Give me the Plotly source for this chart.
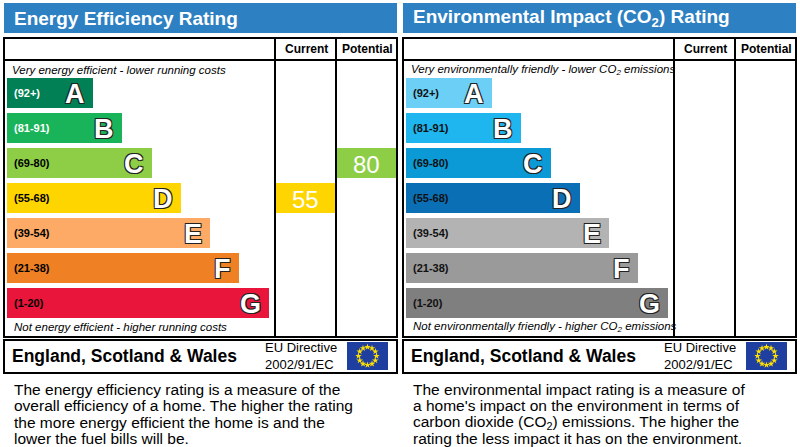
import math
import plotly.graph_objects as go

# data
bands = ['A', 'B', 'C', 'D', 'E', 'F', 'G']
ranges = ['(92+)', '(81-91)', '(69-80)', '(55-68)', '(39-54)', '(21-38)', '(1-20)']
bar_len = [86, 115, 145, 174, 203, 232, 262]
ee_colors = ['#008054', '#19b459', '#8dce46', '#ffd500', '#fcaa65', '#ef8023', '#e9153b']
ei_colors = ['#6ccff6', '#1fb5ef', '#0c9ad6', '#0a6fb5', '#b3b3b3', '#9a9a9a', '#7f7f7f']
ee_current, ee_potential = 55, 80
row_y = [93, 128, 163, 198, 233, 268, 303]

FONT = 'Liberation Sans, Arial'
fig = go.Figure()
shapes, ann = [], []


def band_index(v):
    lows = [92, 81, 69, 55, 39, 21, 1]
    for i, lo in enumerate(lows):
        if v >= lo:
            return i
    return 6


def panel(x0, title, colors, top_txt, bot_txt, para, label_colors, cur=None, pot=None):
    # header
    shapes.append(dict(type='rect', x0=x0, x1=x0 + 393, y0=3, y1=33, fillcolor='#2d80c1', line_width=0, layer='below'))
    ann.append(dict(x=x0 + 8, y=18, text=title, showarrow=False, xanchor='left',
                    font=dict(family=FONT, size=19, color='white', weight='bold')))
    # frames
    for (a, b, c, d) in [(x0, 38, x0 + 393, 337), (x0, 340, x0 + 393, 373)]:
        shapes.append(dict(type='rect', x0=a, y0=b, x1=c, y1=d, line=dict(color='black', width=2), layer='below'))
    shapes.append(dict(type='line', x0=x0, x1=x0 + 393, y0=60, y1=60, line=dict(color='black', width=2)))
    for cx in (x0 + 271, x0 + 332):
        shapes.append(dict(type='line', x0=cx, x1=cx, y0=38, y1=337, line=dict(color='black', width=2)))
    ann.append(dict(x=x0 + 302, y=49, text='Current', showarrow=False,
                    font=dict(family=FONT, size=12, color='black', weight='bold')))
    ann.append(dict(x=x0 + 363, y=49, text='Potential', showarrow=False,
                    font=dict(family=FONT, size=12, color='black', weight='bold')))
    ann.append(dict(x=x0 + 6, y=70, text=top_txt, showarrow=False, xanchor='left',
                    font=dict(family=FONT, size=11.5, color='black', style='italic')))
    ann.append(dict(x=x0 + 8, y=327, text=bot_txt, showarrow=False, xanchor='left',
                    font=dict(family=FONT, size=11.5, color='black', style='italic')))
    # bands
    fig.add_trace(go.Bar(y=row_y, x=bar_len, base=x0 + 3, orientation='h', width=30,
                         marker=dict(color=colors, line_width=0), hoverinfo='skip', showlegend=False))
    outline = '1px 1px 0 #222, -1px -1px 0 #222, 1px -1px 0 #222, -1px 1px 0 #222'
    for i in range(7):
        ann.append(dict(x=x0 + 8, y=row_y[i], text=ranges[i], showarrow=False, xanchor='left',
                        font=dict(family=FONT, size=11, color=label_colors[i], weight='bold')))
        ann.append(dict(x=x0 + 3 + bar_len[i] - 6, y=row_y[i] + 1, text=bands[i], showarrow=False, xanchor='right',
                        font=dict(family=FONT, size=27, color='white', weight='bold', shadow=outline)))
    # ratings
    for val, cx in ((cur, x0 + 272), (pot, x0 + 333)):
        if val is None:
            continue
        i = band_index(val)
        fig.add_trace(go.Bar(y=[row_y[i]], x=[59], base=cx, orientation='h', width=30,
                             marker=dict(color=colors[i], line_width=0), hoverinfo='skip', showlegend=False))
        ann.append(dict(x=cx + 29.5, y=row_y[i] + 1, text=str(val), showarrow=False,
                        font=dict(family=FONT, size=24, color='white')))
    # footer
    ann.append(dict(x=x0 + 6, y=356, text='England, Scotland & Wales', showarrow=False, xanchor='left',
                    font=dict(family=FONT, size=17.5, color='black', weight='bold')))
    ann.append(dict(x=x0 + 297, y=356, text='EU Directive<br>2002/91/EC', showarrow=False,
                    font=dict(family=FONT, size=13, color='black'), align='left'))
    shapes.append(dict(type='rect', x0=x0 + 343, x1=x0 + 384, y0=342, y1=370, fillcolor='#1f3fa0',
                       line_width=0, layer='below'))
    sx = [x0 + 363.5 + 9 * math.cos(k * math.pi / 6) for k in range(12)]
    sy = [356 + 9 * math.sin(k * math.pi / 6) for k in range(12)]
    fig.add_trace(go.Scatter(x=sx, y=sy, mode='markers', hoverinfo='skip', showlegend=False,
                             marker=dict(symbol='star', size=5, color='#ffe000')))
    for k, line in enumerate(para):
        ann.append(dict(x=x0 + 8, y=389 + 16.5 * k, text=line, showarrow=False, xanchor='left',
                        font=dict(family=FONT, size=15.5, color='black')))


panel(4, 'Energy Efficiency Rating', ee_colors,
      'Very energy efficient - lower running costs', 'Not energy efficient - higher running costs',
      ['The energy efficiency rating is a measure of the',
       'overall efficiency of a home. The higher the rating',
       'the more energy efficient the home is and the',
       'lower the fuel bills will be.'],
      ['white', 'white'] + ['black'] * 5, ee_current, ee_potential)
panel(403, 'Environmental Impact (CO<sub>2</sub>) Rating', ei_colors,
      'Very environmentally friendly - lower CO<sub>2</sub> emissions',
      'Not environmentally friendly - higher CO<sub>2</sub> emissions',
      ['The environmental impact rating is a measure of',
       "a home's impact on the environment in terms of",
       'carbon dioxide (CO<sub>2</sub>) emissions. The higher the',
       'rating the less impact it has on the environment.'],
      ['#111'] * 7)

fig.update_layout(
    width=800, height=447, margin=dict(l=0, r=0, t=0, b=0),
    paper_bgcolor='white', plot_bgcolor='white', barmode='overlay',
    xaxis=dict(range=[0, 800], visible=False, fixedrange=True),
    yaxis=dict(range=[447, 0], visible=False, fixedrange=True),
    shapes=shapes, annotations=ann,
)
fig.write_html('out.html', config={'displayModeBar': False},
               post_script="document.body.style.margin='0';")
